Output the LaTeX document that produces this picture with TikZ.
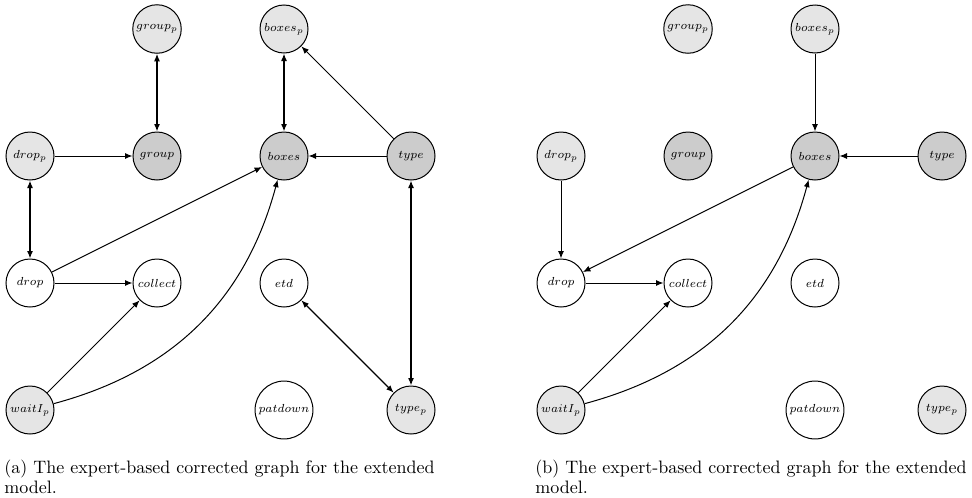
\documentclass[tikz,border=0pt]{standalone}
\usepackage{amsmath, amssymb}
\usepackage{tikz}
\usepackage{xcolor}
\usetikzlibrary{positioning, arrows.meta, shapes.geometric}
\tikzset{
    var/.style={draw, circle, minimum size=28.8pt, inner sep=1.5pt, font=\scriptsize, line width=0.6pt},
    obsvar/.style={var, fill=gray!40},
    priorvar/.style={var, fill=gray!20},
    link/.style={-{Latex[length=4.5pt, width=3.6pt]}, line width=0.6pt},
    twoway/.style={{Latex[length=4.5pt, width=3.6pt]}-{Latex[length=4.5pt, width=3.6pt]}, line width=0.8pt},
    caption/.style={align=left, anchor=base west, inner sep=0pt, font=\fontsize{10.8}{12}\selectfont}
}

\begin{document}
\begin{tikzpicture}[
    x=76.2pt, y=76.2pt
]
\useasboundingbox (-18pt,-52.2pt) rectangle (565.2pt,246pt);

% (a) corrected graph
% Nodes
\node[priorvar] (agroupp) at (1,3) {$group_p$};
\node[priorvar] (aboxesp) at (2,3) {$boxes_p$};
\node[priorvar] (adropp) at (0,2) {$drop_p$};
\node[obsvar] (agroup) at (1,2) {$group$};
\node[obsvar] (aboxes) at (2,2) {$boxes$};
\node[obsvar] (atype) at (3,2) {$type$};
\node[var] (adrop) at (0,1) {$drop$};
\node[var] (acollect) at (1,1) {$collect$};
\node[var] (aetd) at (2,1) {$etd$};
\node[priorvar] (awaitIp) at (0,0) {$waitI_p$};
\node[var] (apatdown) at (2,0) {$patdown$};
\node[priorvar] (atypep) at (3,0) {$type_p$};

% Arcs
\draw[twoway] (agroupp) -- (agroup);
\draw[twoway] (aboxesp) -- (aboxes);
\draw[link] (atype) -- (aboxesp);
\draw[link] (adropp) -- (agroup);
\draw[link] (atype) -- (aboxes);
\draw[twoway] (adropp) -- (adrop);
\draw[link] (adrop) -- (aboxes);
\draw[link] (adrop) -- (acollect);
\draw[link] (awaitIp) -- (acollect);
\draw[link] (awaitIp) to[bend right=30] (aboxes);
\draw[twoway] (atype) -- (atypep);
\draw[twoway] (aetd) -- (atypep);

% (b) corrected graph
\begin{scope}[xshift=318.6pt]
% Nodes
\node[priorvar] (bgroupp) at (1,3) {$group_p$};
\node[priorvar] (bboxesp) at (2,3) {$boxes_p$};
\node[priorvar] (bdropp) at (0,2) {$drop_p$};
\node[obsvar] (bgroup) at (1,2) {$group$};
\node[obsvar] (bboxes) at (2,2) {$boxes$};
\node[obsvar] (btype) at (3,2) {$type$};
\node[var] (bdrop) at (0,1) {$drop$};
\node[var] (bcollect) at (1,1) {$collect$};
\node[var] (betd) at (2,1) {$etd$};
\node[priorvar] (bwaitIp) at (0,0) {$waitI_p$};
\node[var] (bpatdown) at (2,0) {$patdown$};
\node[priorvar] (btypep) at (3,0) {$type_p$};

% Arcs
\draw[link] (bboxesp) -- (bboxes);
\draw[link] (btype) -- (bboxes);
\draw[link] (bdropp) -- (bdrop);
\draw[link] (bboxes) -- (bdrop);
\draw[link] (bdrop) -- (bcollect);
\draw[link] (bwaitIp) -- (bcollect);
\draw[link] (bwaitIp) to[bend right=30] (bboxes);
\end{scope}

% Captions
\node[caption] (capa) at (-15.6pt,-49.8pt) {(a) The expert-based corrected graph for the extended\\model.};
\node[caption] (capb) at (303pt,-49.8pt) {(b) The expert-based corrected graph for the extended\\model.};

\end{tikzpicture}
\end{document}
